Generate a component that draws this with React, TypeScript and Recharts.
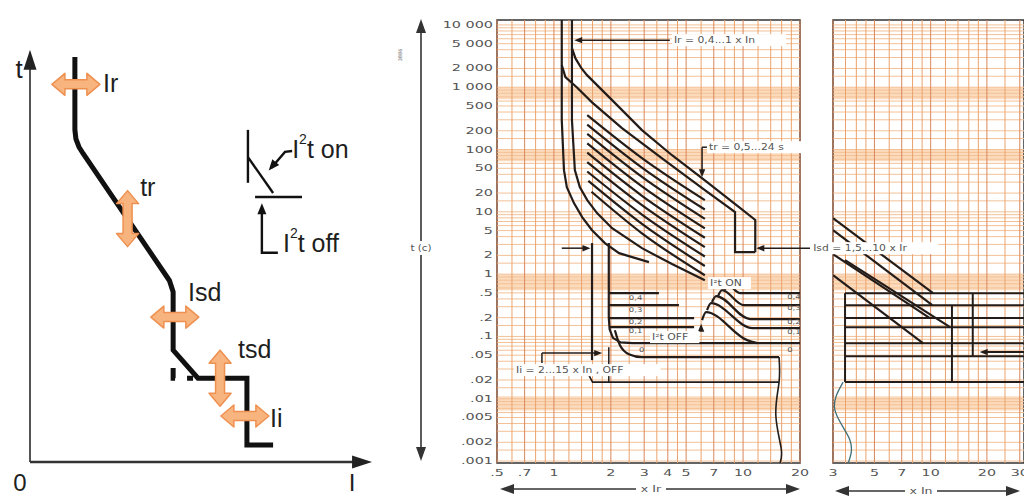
import React from 'react';
import {
  LineChart,
  Line,
  XAxis,
  YAxis,
  ReferenceLine,
  ReferenceArea,
  ReferenceDot,
} from 'recharts';

type P = { x: number; y: number };

const INK = '#231c19';
const GRID_H = '#f3c196';
const GRID_V = '#eaa36c';
const GRID_V_MAJOR = '#d9865a';
const BAND = '#fbd5b1';
const LABEL = '#555';

// ---------- left sketch, arbitrary current / time units (0..100) ----------
const sketchCurve: P[] = [
  { x: 13.2, y: 99.5 }, { x: 13.2, y: 81.6 }, { x: 13.5, y: 79.4 }, { x: 14.4, y: 77.4 },
  { x: 15.6, y: 75.8 }, { x: 41.0, y: 44.6 }, { x: 42.1, y: 41.8 }, { x: 42.1, y: 27.5 },
  { x: 49.4, y: 20.6 }, { x: 63.8, y: 20.6 }, { x: 63.8, y: 4.2 }, { x: 71.5, y: 4.2 },
];
const sketchOff: P[] = [{ x: 42.1, y: 27.5 }, { x: 42.1, y: 20.6 }, { x: 49.4, y: 20.6 }];
const legendStem: P[] = [{ x: 64.1, y: 81.6 }, { x: 64.1, y: 68.6 }];
const legendSlope: P[] = [{ x: 64.1, y: 74.9 }, { x: 71.5, y: 66.1 }];
const legendFlat: P[] = [{ x: 66.2, y: 65.1 }, { x: 80, y: 65.1 }];
const legendOnLeader: P[] = [{ x: 77.1, y: 76.4 }, { x: 75.0, y: 76.2 }, { x: 71.0, y: 72.3 }];
const legendOffLeader: P[] = [{ x: 72.9, y: 51.4 }, { x: 68.2, y: 51.4 }, { x: 68.2, y: 61.5 }];
const sketchHArrows: P[] = [{ x: 13.5, y: 92.8 }, { x: 42.6, y: 35.6 }, { x: 63.2, y: 11.3 }];
const sketchVArrows: P[] = [{ x: 28.7, y: 59.8 }, { x: 55.9, y: 20.6 }];
const sketchLabels = [
  { x: 21.5, y: 93.1, text: 'Ir' },
  { x: 32.4, y: 67.6, text: 'tr' },
  { x: 46.5, y: 41.8, text: 'Isd' },
  { x: 61.2, y: 27.8, text: 'tsd' },
  { x: 70.6, y: 10.8, text: 'Ii' },
];
const legendLabels = [
  { x: 77.1, y: 76.9, text: 't on' },
  { x: 74.4, y: 53.8, text: 't off' },
];

// ---------- axes of the curve sheets ----------
const timeTicks = [10000, 5000, 2000, 1000, 500, 200, 100, 50, 20, 10, 5, 2, 1, 0.5, 0.2, 0.1, 0.05, 0.02, 0.01, 0.005, 0.002, 0.001];
const timeLabels = ['10 000', '5 000', '2 000', '1 000', '500', '200', '100', '50', '20', '10', '5', '2', '1', '.5', '.2', '.1', '.05', '.02', '.01', '.005', '.002', '.001'];
const irTicks = [0.5, 0.7, 1, 2, 3, 4, 5, 7, 10, 20];
const irLabels = ['.5', '.7', '1', '2', '3', '4', '5', '7', '10', '20'];
const inTicks = [3, 5, 7, 10, 20, 30];
const inLabels = ['3', '5', '7', '10', '20', '30'];
const irGrid = [0.5, 0.6, 0.7, 0.8, 0.9, 1, 1.2, 1.4, 1.6, 1.8, 2, 2.5, 3, 3.5, 4, 4.5, 5, 6, 7, 8, 9, 10, 12, 14, 16, 18, 20];
const inGrid = [3, 3.5, 4, 4.5, 5, 6, 7, 8, 9, 10, 12, 14, 16, 18, 20, 25, 30];
const gridMantissas = [1, 1.5, 2, 3, 4, 5, 6, 7, 8, 9];
const gridDecades = [0.001, 0.01, 0.1, 1, 10, 100, 1000, 10000];
const timeBands = [[640, 1000], [65, 100], [0.55, 1], [0.0065, 0.011]];

// ---------- x Ir sheet ----------
const irLow: P[] = [
  { x: 1.1, y: 12000 }, { x: 1.1, y: 297 }, { x: 1.13, y: 46.7 }, { x: 1.17, y: 24.9 },
  { x: 1.276, y: 13.8 }, { x: 1.41, y: 8.22 }, { x: 1.59, y: 5.08 }, { x: 1.86, y: 3.15 },
  { x: 2.21, y: 2.17 }, { x: 3.18, y: 1.56 },
];
const irHigh: P[] = [
  { x: 1.245, y: 12000 }, { x: 1.245, y: 297 }, { x: 1.29, y: 46.7 }, { x: 1.37, y: 24.9 },
  { x: 1.5, y: 15.4 }, { x: 1.69, y: 9.53 }, { x: 2.03, y: 5.47 }, { x: 2.92, y: 2.61 },
  { x: 4.21, y: 1.45 }, { x: 6.28, y: 0.8 },
];
const trOuter: P[] = [
  { x: 1.245, y: 4260 }, { x: 1.3, y: 2900 }, { x: 1.4, y: 2000 }, { x: 1.496, y: 1563 },
  { x: 2.03, y: 621 }, { x: 2.92, y: 205 }, { x: 4.21, y: 81 }, { x: 6.28, y: 32 },
  { x: 9.52, y: 11.9 }, { x: 11.6, y: 7.4 }, { x: 11.6, y: 2.25 },
];
const trInner: P[] = [
  { x: 1.1, y: 2264 }, { x: 1.15, y: 1450 }, { x: 1.32, y: 1000 }, { x: 1.59, y: 572 },
  { x: 2.29, y: 220 }, { x: 3.73, y: 72 }, { x: 6.28, y: 22.3 }, { x: 9.07, y: 9.9 },
  { x: 9.07, y: 2.25 }, { x: 11.6, y: 2.25 },
];
const trFan: P[][] = [
  [{ x: 1.5, y: 356 }, { x: 2.92, y: 72.7 }, { x: 6.28, y: 15.4 }],
  [{ x: 1.5, y: 252 }, { x: 2.92, y: 51.4 }, { x: 6.28, y: 10.9 }],
  [{ x: 1.5, y: 178 }, { x: 2.92, y: 36.3 }, { x: 6.28, y: 7.7 }],
  [{ x: 1.5, y: 126 }, { x: 2.92, y: 25.7 }, { x: 6.28, y: 5.43 }],
  [{ x: 1.5, y: 88.9 }, { x: 2.92, y: 18.1 }, { x: 6.28, y: 3.84 }],
  [{ x: 1.5, y: 62.8 }, { x: 2.92, y: 12.8 }, { x: 6.28, y: 2.71 }],
  [{ x: 1.5, y: 44.4 }, { x: 2.92, y: 9.05 }, { x: 6.28, y: 1.92 }],
  [{ x: 1.52, y: 31.3 }, { x: 2.92, y: 6.39 }, { x: 6.28, y: 1.35 }],
  [{ x: 1.58, y: 21 }, { x: 2.92, y: 4.52 }, { x: 6.28, y: 0.96 }],
];
const isdBack: P[] = [{ x: 1.59, y: 3.15 }, { x: 1.59, y: 0.0417 }];
const isdFront: P[] = [
  { x: 1.95, y: 3.15 }, { x: 1.95, y: 0.2 }, { x: 1.97, y: 0.13 }, { x: 2.05, y: 0.095 },
  { x: 2.25, y: 0.08 }, { x: 2.6, y: 0.078 }, { x: 20, y: 0.078 },
];
const tsdOff: P[][] = [
  [{ x: 1.95, y: 0.495 }, { x: 3.59, y: 0.495 }],
  [{ x: 1.95, y: 0.318 }, { x: 4.58, y: 0.318 }],
  [{ x: 1.95, y: 0.197 }, { x: 5.51, y: 0.197 }],
  [{ x: 1.96, y: 0.141 }, { x: 5.51, y: 0.141 }],
];
const tsdOn: P[][] = [
  [{ x: 7.93, y: 0.553 }, { x: 8.43, y: 0.642 }, { x: 9.64, y: 0.495 }, { x: 20, y: 0.495 }],
  [{ x: 7.37, y: 0.443 }, { x: 7.74, y: 0.553 }, { x: 10.1, y: 0.318 }, { x: 20, y: 0.318 }],
  [{ x: 6.85, y: 0.356 }, { x: 7.2, y: 0.443 }, { x: 10.9, y: 0.19 }, { x: 20, y: 0.19 }],
  [{ x: 6.45, y: 0.264 }, { x: 6.77, y: 0.342 }, { x: 11.2, y: 0.136 }, { x: 20, y: 0.136 }],
  [{ x: 6.07, y: 0.183 }, { x: 6.37, y: 0.246 }, { x: 10.5, y: 0.0873 }, { x: 11.9, y: 0.078 }],
];
const zeroBand: P[] = [
  { x: 2.1, y: 0.126 }, { x: 2.23, y: 0.073 }, { x: 2.49, y: 0.052 }, { x: 2.92, y: 0.0466 }, { x: 15.5, y: 0.0466 },
];
const instTail: P[] = [
  { x: 15.5, y: 0.0466 }, { x: 15.5, y: 0.0185 }, { x: 14.9, y: 0.0055 }, { x: 15.9, y: 0.0016 }, { x: 15.7, y: 0.00093 },
];
const iiFloor: P[] = [{ x: 1.53, y: 0.0239 }, { x: 1.6, y: 0.0185 }, { x: 15.5, y: 0.0185 }];
const midSegments: P[][] = [
  [{ x: 0.864, y: 0.054 }, { x: 1.72, y: 0.054 }],
  [{ x: 0.864, y: 0.054 }, { x: 0.864, y: 0.0375 }],
  [{ x: 1.95, y: 0.067 }, { x: 1.95, y: 0.0185 }],
  [{ x: 1.1, y: 2.61 }, { x: 1.5, y: 2.61 }],
  [{ x: 1.33, y: 5700 }, { x: 4.1, y: 5700 }],
  [{ x: 6.5, y: 109 }, { x: 6.07, y: 109 }],
  [{ x: 6.07, y: 109 }, { x: 6.07, y: 42 }],
  [{ x: 12.1, y: 2.61 }, { x: 23.8, y: 2.61 }],
];
const midTips = [
  { x: 1.28, y: 5700, a: 180 },
  { x: 6.07, y: 36, a: 90 },
  { x: 1.56, y: 2.61, a: 0 },
  { x: 11.75, y: 2.61, a: 180 },
  { x: 1.8, y: 0.054, a: 0 },
  { x: 6.0, y: 0.16, a: -90 },
];
const midNotes = [
  { x: 4.31, y: 5700, text: 'Ir = 0,4...1 x In', bg: true },
  { x: 6.6, y: 109, text: 'tr = 0,5...24 s', bg: true },
  { x: 6.69, y: 0.717, text: 'I²t ON', bg: true },
  { x: 3.3, y: 0.0975, text: 'I²t OFF', bg: true },
  { x: 0.63, y: 0.0288, text: 'Ii = 2...15 x In , OFF', bg: true },
];
const tsdTags = [
  { x: 2.49, y: 0.41, text: '0,4' }, { x: 2.49, y: 0.264, text: '0,3' },
  { x: 2.49, y: 0.17, text: '0,2' }, { x: 2.49, y: 0.122, text: '0,1' },
  { x: 2.82, y: 0.06, text: '0' },
  { x: 17.1, y: 0.428, text: '0,4' }, { x: 17.1, y: 0.285, text: '0,3' },
  { x: 17.1, y: 0.17, text: '0,2' }, { x: 17.1, y: 0.117, text: '0,1' },
  { x: 17.1, y: 0.06, text: '0' },
];

// ---------- x In sheet ----------
const inSlopes: P[][] = [
  [{ x: 3, y: 7.9 }, { x: 10.3, y: 0.495 }],
  [{ x: 3, y: 5.08 }, { x: 10.2, y: 0.318 }],
  [{ x: 3, y: 2.09 }, { x: 9.9, y: 0.197 }],
  [{ x: 3.48, y: 1.68 }, { x: 12.7, y: 0.141 }],
  [{ x: 3, y: 0.96 }, { x: 9.09, y: 0.078 }],
];
const inLevels = [0.495, 0.318, 0.197, 0.141, 0.078, 0.048, 0.0185];
const inPosts: P[][] = [
  [{ x: 3.48, y: 0.495 }, { x: 3.48, y: 0.0185 }],
  [{ x: 13, y: 0.318 }, { x: 13, y: 0.0185 }],
  [{ x: 16.8, y: 0.495 }, { x: 16.8, y: 0.048 }],
  [{ x: 19.6, y: 0.056 }, { x: 31.6, y: 0.056 }],
];
const inTail: P[] = [{ x: 3.4, y: 0.0185 }, { x: 3.07, y: 0.0066 }, { x: 3.69, y: 0.0022 }, { x: 3.62, y: 0.00093 }];

const gridY = gridDecades.flatMap((d) => gridMantissas.map((m) => +(m * d).toPrecision(6)));
const T_DOMAIN = [0.00093, 12000];

const tip = (angle: number, len = 8, half = 3.2, color = INK) => (p: any) => (
  <polygon
    points={`0,0 ${-len},${-half} ${-len},${half}`}
    transform={`translate(${p.cx},${p.cy}) rotate(${angle})`}
    fill={color}
  />
);

const fatArrow = (angle: number, half: number) => (p: any) => {
  const h = half, k = half - 13;
  const pts = [[-h, 0], [-k, -11], [-k, -4.5], [k, -4.5], [k, -11], [h, 0], [k, 11], [k, 4.5], [-k, 4.5], [-k, 11]];
  return (
    <polygon
      points={pts.map((q) => q.join(',')).join(' ')}
      transform={`translate(${p.cx},${p.cy}) rotate(${angle})`}
      fill="#f8b47f"
      stroke="#ee9050"
      strokeWidth={1.5}
      strokeLinejoin="round"
    />
  );
};

const note = (text: string, bg: boolean, size = 8, sx = 1.35) => (p: any) => {
  const w = text.length * size * 0.6 * sx + 4;
  return (
    <g transform={`translate(${p.cx},${p.cy})`}>
      {bg && <rect x={-2} y={-(size + 4) / 2} width={w} height={size + 4} fill="#fff" />}
      <text transform={`scale(${sx},1)`} dominantBaseline="central" fontSize={size} fill={LABEL} fontFamily="DejaVu Sans">
        {text}
      </text>
    </g>
  );
};

const sketchText = (text: string, sup: boolean) => (p: any) => (
  <text x={p.cx} y={p.cy} dominantBaseline="central" fontSize={25} fill="#1e1e1e" fontFamily="Liberation Sans, Arial, sans-serif">
    {sup ? (
      <>
        <tspan>I</tspan>
        <tspan dy={-10} fontSize={14}>2</tspan>
        <tspan dy={10}>{text}</tspan>
      </>
    ) : (
      text
    )}
  </text>
);

const makeTick = (values: number[], labels: string[], vertical: boolean) => (props: any) => {
  const { x, y, payload } = props;
  const i = values.findIndex((v) => Math.abs(v - payload.value) <= v * 1e-6);
  if (i < 0) return <g />;
  return vertical ? (
    <text transform={`translate(${x},${y}) scale(1.6,1)`} textAnchor="end" dominantBaseline="central" fontSize={9} fill={LABEL} fontFamily="DejaVu Sans">
      {labels[i]}
    </text>
  ) : (
    <text transform={`translate(${x},${y + 6}) scale(1.5,1)`} textAnchor="middle" dominantBaseline="central" fontSize={9.5} fill={LABEL} fontFamily="DejaVu Sans">
      {labels[i]}
    </text>
  );
};

const inkLine = (key: string, data: P[], type: any = 'linear', w = 2.2, color = INK) => (
  <Line key={key} data={data} dataKey="y" type={type} stroke={color} strokeWidth={w} dot={false} isAnimationActive={false} />
);

function Sketch() {
  return (
    <LineChart width={380} height={499} margin={{ top: 55, right: 10, bottom: 37, left: 30 }}>
      <XAxis type="number" dataKey="x" domain={[0, 100]} allowDataOverflow hide />
      <YAxis type="number" domain={[0, 100]} allowDataOverflow hide />
      <ReferenceLine segment={[{ x: 0, y: 0 }, { x: 0, y: 97 }]} stroke="#555" strokeWidth={2} ifOverflow="visible" />
      <ReferenceLine segment={[{ x: 0, y: 0 }, { x: 96, y: 0 }]} stroke="#333" strokeWidth={2.5} ifOverflow="visible" />
      <ReferenceDot x={0} y={101.3} ifOverflow="visible" shape={tip(-90, 20, 6.5, '#222')} />
      <ReferenceDot x={100.6} y={0} ifOverflow="visible" shape={tip(0, 20, 6.5, '#222')} />
      {inkLine('curve', sketchCurve, 'linear', 5, '#111')}
      <Line data={sketchOff} dataKey="y" stroke="#111" strokeWidth={5} strokeDasharray="0 18 12 12 6 40" dot={false} isAnimationActive={false} />
      {[legendStem, legendSlope, legendFlat, legendOnLeader, legendOffLeader].map((d, i) => inkLine('lg' + i, d, 'linear', 2.4, '#111'))}
      <ReferenceDot x={70.2} y={71.6} shape={tip(130, 11, 4.5, '#111')} />
      <ReferenceDot x={68.2} y={63.6} shape={tip(-90, 11, 4.5, '#111')} />
      {sketchHArrows.map((a, i) => (
        <ReferenceDot key={'ha' + i} x={a.x} y={a.y} shape={fatArrow(0, 24)} />
      ))}
      {sketchVArrows.map((a, i) => (
        <ReferenceDot key={'va' + i} x={a.x} y={a.y} shape={fatArrow(90, 28)} />
      ))}
      {sketchLabels.map((l) => (
        <ReferenceDot key={l.text} x={l.x} y={l.y} shape={sketchText(l.text, false)} />
      ))}
      {legendLabels.map((l) => (
        <ReferenceDot key={l.text} x={l.x} y={l.y} shape={sketchText(l.text, true)} />
      ))}
    </LineChart>
  );
}

function IrSheet() {
  return (
    <LineChart width={430} height={499} margin={{ top: 20, right: 10, bottom: 16, left: 0 }}>
      <XAxis
        type="number"
        dataKey="x"
        scale="log"
        domain={[0.5, 20]}
        allowDataOverflow
        ticks={irTicks}
        interval={0}
        height={20}
        axisLine={false}
        tickLine={false}
        tickSize={0}
        tickMargin={4}
        tick={makeTick(irTicks, irLabels, false)}
      />
      <YAxis
        type="number"
        scale="log"
        domain={T_DOMAIN}
        allowDataOverflow
        ticks={timeTicks}
        interval={0}
        width={117}
        axisLine={false}
        tickLine={false}
        tickSize={0}
        tickMargin={4}
        tick={makeTick(timeTicks, timeLabels, true)}
      />
      {timeBands.map(([a, b]) => (
        <ReferenceArea key={'b' + a} y1={a} y2={b} fill={BAND} fillOpacity={0.85} stroke="none" />
      ))}
      {gridY.map((v) => (
        <ReferenceLine key={'gy' + v} y={v} stroke={GRID_H} strokeWidth={1} />
      ))}
      {irGrid.map((v) => (
        <ReferenceLine key={'gx' + v} x={v} stroke={irTicks.includes(v) ? GRID_V_MAJOR : GRID_V} strokeWidth={1} />
      ))}
      <ReferenceArea x1={0.5} x2={20} y1={T_DOMAIN[0]} y2={T_DOMAIN[1]} fill="none" stroke="#333" strokeWidth={1.5} />
      {inkLine('irLow', irLow)}
      {inkLine('irHigh', irHigh)}
      {inkLine('trOuter', trOuter)}
      {inkLine('trInner', trInner)}
      {trFan.map((d, i) => inkLine('fan' + i, d, 'monotone'))}
      {inkLine('isdBack', isdBack)}
      {inkLine('isdFront', isdFront)}
      {tsdOff.map((d, i) => inkLine('off' + i, d))}
      {tsdOn.map((d, i) => inkLine('on' + i, d, 'monotone'))}
      {inkLine('zero', zeroBand, 'monotone')}
      {inkLine('tail', instTail, 'natural', 1.6)}
      {inkLine('iiFloor', iiFloor, 'linear', 1.6)}
      {midSegments.map((s, i) => (
        <ReferenceLine key={'seg' + i} segment={s} stroke={INK} strokeWidth={1.5} ifOverflow="visible" />
      ))}
      {midTips.map((t, i) => (
        <ReferenceDot key={'tip' + i} x={t.x} y={t.y} shape={tip(t.a)} />
      ))}
      {midNotes.map((n) => (
        <ReferenceDot key={n.text} x={n.x} y={n.y} shape={note(n.text, n.bg)} />
      ))}
      {tsdTags.map((n, i) => (
        <ReferenceDot key={'tag' + i} x={n.x} y={n.y} shape={note(n.text, false, 6.5, 1.3)} />
      ))}
    </LineChart>
  );
}

function InSheet() {
  return (
    <LineChart width={214} height={499} margin={{ top: 20, right: 0, bottom: 16, left: 23 }}>
      <XAxis
        type="number"
        dataKey="x"
        scale="log"
        domain={[3, 31.6]}
        allowDataOverflow
        ticks={inTicks}
        interval={0}
        height={20}
        axisLine={false}
        tickLine={false}
        tickSize={0}
        tickMargin={4}
        tick={makeTick(inTicks, inLabels, false)}
      />
      <YAxis type="number" scale="log" domain={T_DOMAIN} allowDataOverflow hide />
      {timeBands.map(([a, b]) => (
        <ReferenceArea key={'b' + a} y1={a} y2={b} fill={BAND} fillOpacity={0.85} stroke="none" />
      ))}
      {gridY.map((v) => (
        <ReferenceLine key={'gy' + v} y={v} stroke={GRID_H} strokeWidth={1} />
      ))}
      {inGrid.map((v) => (
        <ReferenceLine key={'gx' + v} x={v} stroke={inTicks.includes(v) ? GRID_V_MAJOR : GRID_V} strokeWidth={1} />
      ))}
      <ReferenceArea x1={3} x2={31.6} y1={T_DOMAIN[0]} y2={T_DOMAIN[1]} fill="none" stroke="#333" strokeWidth={1.5} />
      {inSlopes.map((d, i) => inkLine('sl' + i, d))}
      {inLevels.map((v) => (
        <ReferenceLine key={'lv' + v} segment={[{ x: 3.48, y: v }, { x: 31.6, y: v }]} stroke={INK} strokeWidth={2} />
      ))}
      {inPosts.map((s, i) => (
        <ReferenceLine key={'post' + i} segment={s} stroke={INK} strokeWidth={2} />
      ))}
      <ReferenceDot x={18.3} y={0.056} shape={tip(180)} />
      {inkLine('inTail', inTail, 'natural', 1.3, '#3f6f78')}
      <ReferenceDot x={2.35} y={2.61} ifOverflow="visible" shape={note('Isd = 1,5...10 x Ir', true)} />
    </LineChart>
  );
}

export default function App() {
  const small = { fontFamily: 'DejaVu Sans', fontSize: 8, fill: LABEL } as const;
  return (
    <div style={{ position: 'fixed', left: 0, top: 0, width: 1024, height: 499, overflow: 'hidden', background: '#fff' }}>
      <div style={{ position: 'absolute', left: 0, top: 0 }}>
        <Sketch />
      </div>
      <div style={{ position: 'absolute', left: 380, top: 0 }}>
        <IrSheet />
      </div>
      <div style={{ position: 'absolute', left: 810, top: 0 }}>
        <InSheet />
      </div>
      <svg width={1024} height={499} style={{ position: 'absolute', left: 0, top: 0, pointerEvents: 'none' }}>
        <text x={19} y={69} textAnchor="middle" dominantBaseline="central" fontSize={26} fontFamily="Liberation Sans, Arial, sans-serif" fill="#1e1e1e">t</text>
        <text x={20} y={482} textAnchor="middle" dominantBaseline="central" fontSize={24} fontFamily="Liberation Sans, Arial, sans-serif" fill="#1e1e1e">0</text>
        <text x={352} y={482} textAnchor="middle" dominantBaseline="central" fontSize={24} fontFamily="Liberation Sans, Arial, sans-serif" fill="#1e1e1e">I</text>

        <line x1={421} y1={30} x2={421} y2={450} stroke="#333" strokeWidth={1.6} />
        <polygon points="421,19 416,33 426,33" fill="#333" />
        <polygon points="421,461 416,447 426,447" fill="#333" />
        <rect x={405} y={241} width={33} height={14} fill="#fff" />
        <text transform="translate(421,248) scale(1.3,1)" textAnchor="middle" dominantBaseline="central" {...small}>t (c)</text>
        <text transform="translate(400,55) rotate(-90)" textAnchor="middle" dominantBaseline="central" fontSize={5} fill="#666" fontFamily="DejaVu Sans">3886</text>

        <line x1={510} y1={489} x2={790} y2={489} stroke="#333" strokeWidth={1.6} />
        <polygon points="500,489 514,484 514,494" fill="#333" />
        <polygon points="800,489 786,484 786,494" fill="#333" />
        <rect x={636} y={482} width={30} height={14} fill="#fff" />
        <text transform="translate(651,489) scale(1.4,1)" textAnchor="middle" dominantBaseline="central" fontSize={9} fill={LABEL} fontFamily="DejaVu Sans">x Ir</text>

        <line x1={845} y1={491} x2={1010} y2={491} stroke="#333" strokeWidth={1.6} />
        <polygon points="835,491 849,486 849,496" fill="#333" />
        <polygon points="1020,491 1006,486 1006,496" fill="#333" />
        <rect x={905} y={484} width={32} height={14} fill="#fff" />
        <text transform="translate(921,491) scale(1.4,1)" textAnchor="middle" dominantBaseline="central" fontSize={9} fill={LABEL} fontFamily="DejaVu Sans">x In</text>
      </svg>
    </div>
  );
}
